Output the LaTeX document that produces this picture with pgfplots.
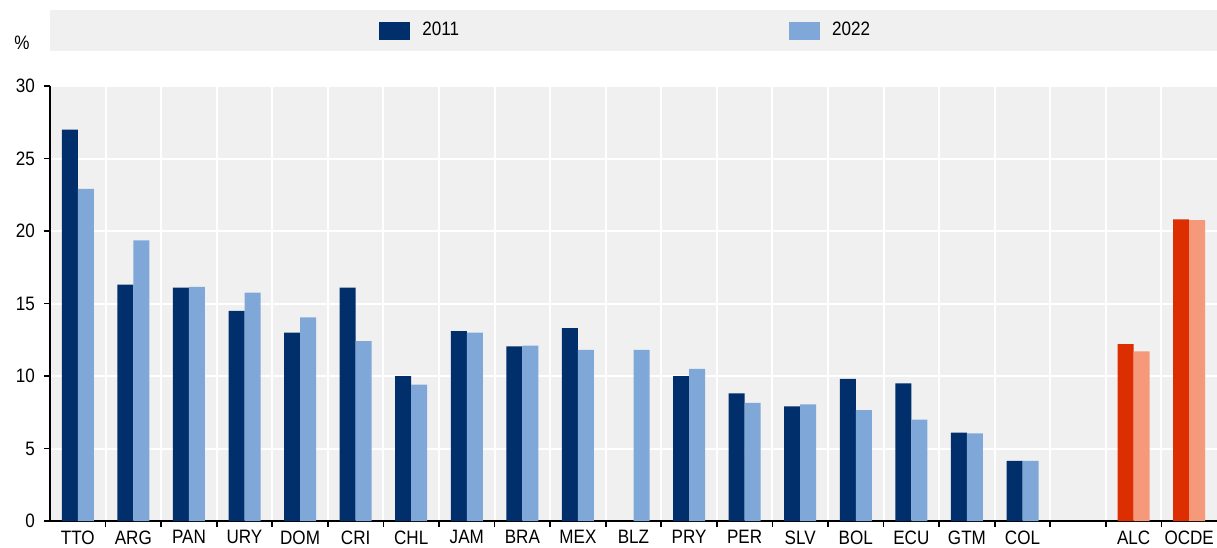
\documentclass[border=0pt]{standalone}
\usepackage{fontspec}
\setmainfont{Liberation Sans}[FakeStretch=0.88]
\usepackage{pgfplots}
\pgfplotsset{compat=1.18}
\definecolor{dk}{HTML}{002F6C}
\definecolor{lt}{HTML}{7FA8D9}
\definecolor{rd}{HTML}{DC2E00}
\definecolor{sa}{HTML}{F6997B}
\definecolor{bg}{HTML}{F0F0F0}
\begin{document}
\begin{tikzpicture}
\begin{axis}[
  scale only axis, width=583.5pt, height=217.5pt,
  xmin=-0.5, xmax=20.5, ymin=0, ymax=30,
  clip=false,
  axis x line*=bottom, axis y line*=left,
  axis line style={black, line width=0.9pt},
  axis background/.style={fill=bg},
  xtick={0,...,20},
  xticklabels={TTO,ARG,PAN,URY,DOM,CRI,CHL,JAM,BRA,MEX,BLZ,PRY,PER,SLV,BOL,ECU,GTM,COL,,ALC,OCDE},
  major x tick style={draw=none},
  minor xtick={0.5,1.5,...,19.5},
  xminorgrids=true,
  minor grid style={white, line width=1pt},
  ytick={0,5,...,30},
  ymajorgrids=true,
  major grid style={white, line width=1pt},
  tick align=inside,
  major tick length=3pt, minor tick length=3pt,
  minor x tick style={black, line width=0.8pt},
  y tick style={black, line width=0.8pt, xshift=-3pt},
  /pgf/number format/assume math mode=true,
  tick label style={font=\fontsize{9.7}{11}\selectfont},
  yticklabel style={xshift=-4pt},
  xticklabel style={yshift=1.8pt},
  ybar, bar width=8pt,
  legend style={at={(axis description cs:0.2819,1.1276)}, anchor=west, draw=none, fill=none,
    font=\fontsize{9.7}{11}\selectfont, inner sep=0pt,
    /tikz/every even column/.append style={column sep=163pt}},
  legend columns=2,
  legend image code/.code={\fill[#1] (0pt,-4.5pt) rectangle (15.5pt,4.5pt); \path (19.5pt,0pt);},
]
\fill[bg] (rel axis cs:0,1.0805) rectangle (rel axis cs:1,1.1747);
\coordinate (SW) at (rel axis cs:0,0);
\coordinate (NE) at (rel axis cs:1,1);
\node[font=\fontsize{9.7}{11}\selectfont] at ([xshift=-14pt,yshift=21.5pt]rel axis cs:0,1) {\%};
\addplot[fill=dk, draw=none, bar shift=-4pt] coordinates {
(0,27.0) (1,16.3) (2,16.1) (3,14.5) (4,13.0) (5,16.1) (6,10.0) (7,13.1) (8,12.05)
(9,13.3) (11,10.0) (12,8.8) (13,7.9) (14,9.8) (15,9.5) (16,6.1) (17,4.15)};
\addlegendentry{2011}
\addplot[fill=lt, draw=none, bar shift=4pt] coordinates {
(0,22.9) (1,19.35) (2,16.15) (3,15.75) (4,14.05) (5,12.4) (6,9.4) (7,13.0) (8,12.1)
(9,11.8) (10,11.8) (11,10.5) (12,8.15) (13,8.05) (14,7.65) (15,7.0) (16,6.05) (17,4.15)};
\addlegendentry{2022}
\addplot[fill=rd, draw=none, bar shift=-4pt, forget plot] coordinates {(19,12.2) (20,20.8)};
\addplot[fill=sa, draw=none, bar shift=4pt, forget plot] coordinates {(19,11.7) (20,20.75)};
\end{axis}
\pgfresetboundingbox
\path ([xshift=-25pt,yshift=-13pt]SW) rectangle ([yshift=43pt]NE);
\end{tikzpicture}
\end{document}
